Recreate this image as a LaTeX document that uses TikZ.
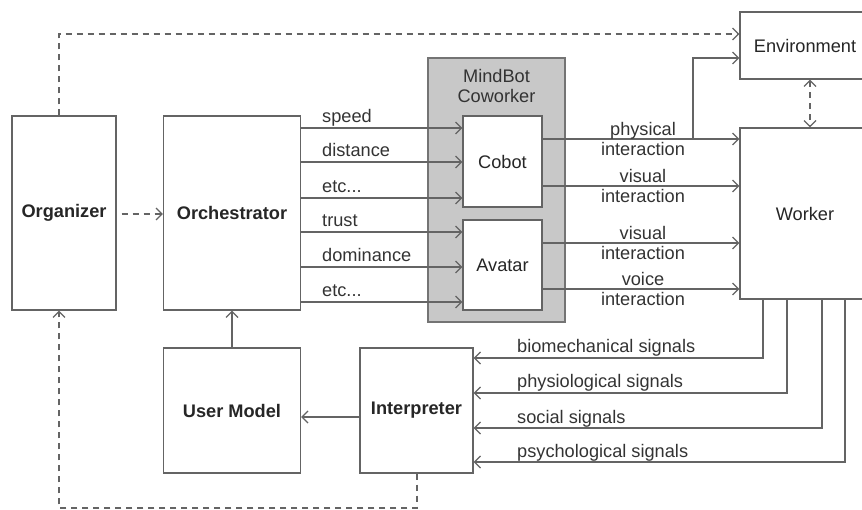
\documentclass[tikz,border=0pt]{standalone}
\usepackage{fontspec}
\setmainfont{Liberation Sans}
\usetikzlibrary{arrows.meta}
\definecolor{linegray}{RGB}{100,100,100}
\definecolor{boxgray}{RGB}{200,200,200}
\newcommand{\etcdots}{etc...}

\begin{document}
\begin{tikzpicture}[x=1pt, y=-1pt, font=\fontsize{18.2}{20}\selectfont]
    % Define styles
    \tikzstyle{block} = [rectangle, draw=linegray, line width=1.3pt, fill=white, text=black!85, inner sep=0pt]
    \tikzstyle{boldblock} = [block, font=\fontsize{18.2}{20}\selectfont\bfseries]
    \tikzstyle{group} = [rectangle, draw=linegray!90, line width=1.3pt, fill=boxgray, inner sep=0pt]
    \tikzstyle{arrow} = [draw=linegray, line width=1.2pt, -{Straight Barb[length=6pt,width=12pt]}]
    \tikzstyle{dasharrow} = [arrow, dashed, dash pattern=on 6pt off 5pt]
    \tikzstyle{lbl} = [text=black!80, inner sep=1pt]

    \useasboundingbox (0,0) rectangle (862,510);

    % Nodes
    \node[boldblock, minimum width=104pt, minimum height=194pt] (organizer) at (64,213) {Organizer};
    \node[boldblock, minimum width=137pt, minimum height=194pt] (orchestrator) at (232,213) {Orchestrator};
    \node[group, minimum width=137pt, minimum height=264pt] (mindbot) at (496.5,190) {};
    \node[lbl, align=center] (mindbotlabel) at (496.5,86) {MindBot\\Coworker};
    \node[block, minimum width=79pt, minimum height=91pt] (cobot) at (502.5,161.5) {Cobot};
    \node[block, minimum width=79pt, minimum height=90pt] (avatar) at (502.5,265) {Avatar};
    \node[block, minimum width=130pt, minimum height=67pt] (environment) at (805,45.5) {Environment};
    \node[block, minimum width=130pt, minimum height=171pt] (worker) at (805,213.5) {Worker};
    \node[boldblock, minimum width=137pt, minimum height=125pt] (usermodel) at (232,410.5) {User Model};
    \node[boldblock, minimum width=113pt, minimum height=125pt] (interpreter) at (416.5,410.5) {Interpreter};

    % Arrows into the coworker
    \foreach \y/\txt/\dest in {128/speed/cobot, 162/distance/cobot, 198/\etcdots/cobot,
                               232/trust/avatar, 267/dominance/avatar, 302/\etcdots/avatar} {
        \draw[arrow] (orchestrator.east |- 0,\y) -- (\dest.west |- 0,\y);
        \node[lbl, anchor=base west] at (321,\y-5) {\txt};
    }

    % Interaction arrows
    \foreach \y/\txt/\src in {139/physical/cobot, 186/visual/cobot,
                              243/visual/avatar, 289/voice/avatar} {
        \draw[arrow] (\src.east |- 0,\y) -- (worker.west |- 0,\y);
        \node[lbl, align=center] at (643,\y) {\txt\\interaction};
    }
    \draw[arrow] (693,139) |- (environment.west |- 0,58);
    \draw[dasharrow, {Straight Barb[length=6pt,width=12pt]}-{Straight Barb[length=6pt,width=12pt]}] (environment.south -| 810,0) -- (worker.north -| 810,0);

    % Signals
    \foreach \x/\y/\txt in {763/358/biomechanical signals, 787/393/physiological signals,
                            822/428/social signals, 845/462/psychological signals} {
        \draw[arrow] (worker.south -| \x,0) |- (interpreter.east |- 0,\y);
        \node[lbl, anchor=base west] at (516,\y-5) {\txt};
    }

    \draw[arrow] (interpreter.west |- 0,417) -- (usermodel.east |- 0,417);
    \draw[arrow] (usermodel) -- (orchestrator);

    % Dashed links
    \draw[dasharrow] (organizer.east |- 0,214) ++(5,0) -- (orchestrator.west |- 0,214);
    \draw[dasharrow] (organizer.north -| 59,0) |- (environment.west |- 0,34);
    \draw[dasharrow] (interpreter.south -| 417,0) -- (417,508) -| (organizer.south -| 59,0);
\end{tikzpicture}
\end{document}
